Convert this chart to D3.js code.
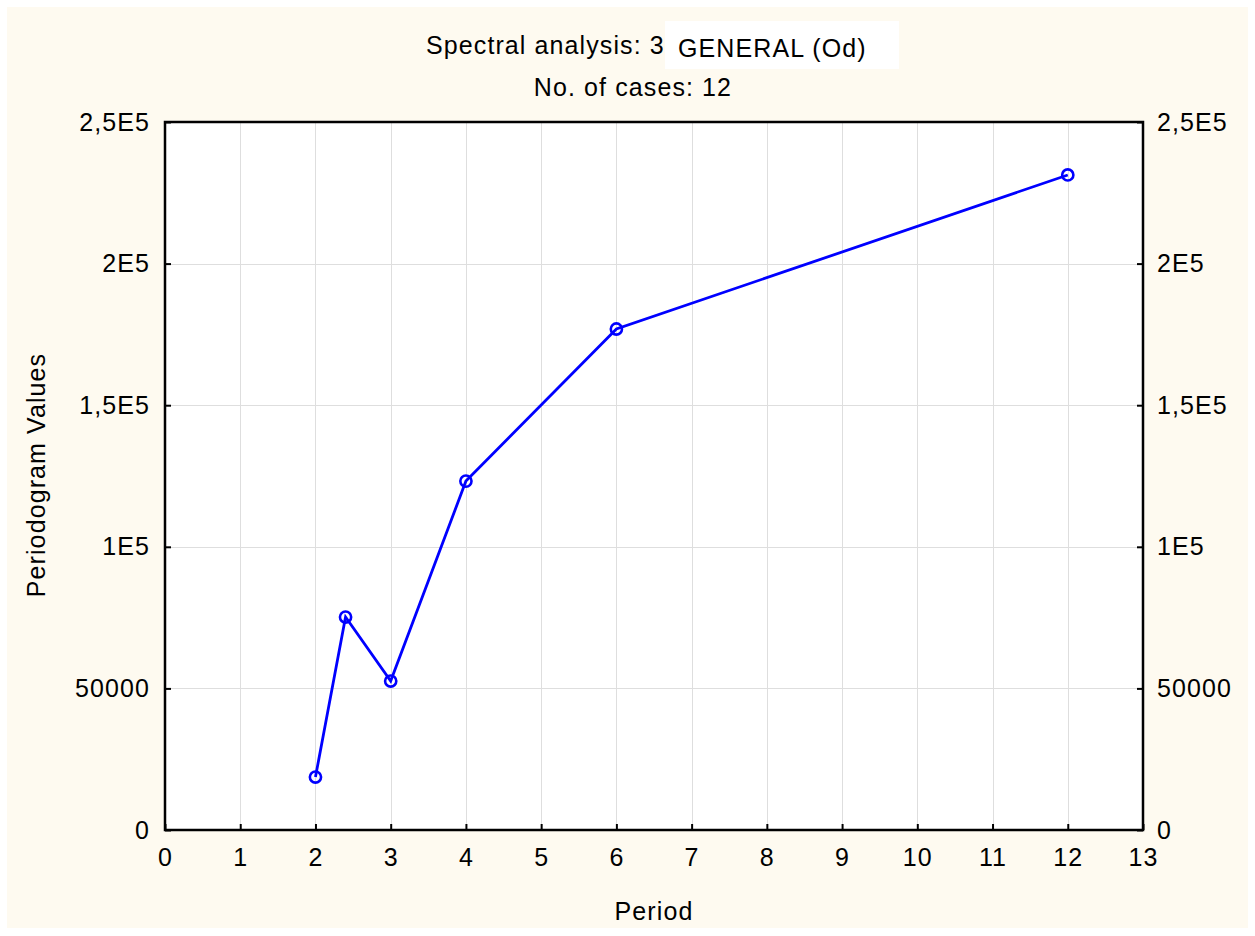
<!DOCTYPE html>
<html>
<head>
<meta charset="utf-8">
<script src="https://cdn.jsdelivr.net/npm/d3@7"></script>
<style>
  html, body { margin: 0; padding: 0; background: #ffffff; }
  svg { display: block; font-family: "Liberation Sans", Arial, sans-serif; }
  svg text { font-family: "Liberation Sans", Arial, sans-serif; font-size: 25px; letter-spacing: 1.1px; fill: #000; }
</style>
</head>
<body>
<svg id="chart" width="1255" height="936"></svg>
<script>
// Periodogram by period (12 cases)
const periods = [2, 2.4, 3, 4, 6, 12];
const periodogramValues = [18700, 75200, 52600, 123200, 176900, 231300];
const xTicks = [0, 1, 2, 3, 4, 5, 6, 7, 8, 9, 10, 11, 12, 13];
const yTicks = [0, 50000, 100000, 150000, 200000, 250000];
const yTickLabels = ["0", "50000", "1E5", "1,5E5", "2E5", "2,5E5"];

const svg = d3.select("#chart");
const W = 1255, H = 936;
const m = { left: 165, right: 1143, top: 122, bottom: 830 };

// page background
svg.append("rect").attr("x", 7).attr("y", 7).attr("width", W - 14).attr("height", H - 15)
  .attr("fill", "#fefaf0");

const x = d3.scaleLinear().domain([0, 13]).range([m.left, m.right]);
const y = d3.scaleLinear().domain([0, 250000]).range([m.bottom, m.top]);

// plot area
svg.append("rect").attr("x", m.left).attr("y", m.top)
  .attr("width", m.right - m.left).attr("height", m.bottom - m.top).attr("fill", "#ffffff");

// grid
const grid = svg.append("g").attr("stroke", "#dedede").attr("stroke-width", 1);
grid.selectAll("line.gx").data(xTicks.slice(1, -1)).join("line")
  .attr("x1", d => Math.round(x(d)) + 0.5).attr("x2", d => Math.round(x(d)) + 0.5)
  .attr("y1", m.top).attr("y2", m.bottom);
grid.selectAll("line.gy").data(yTicks.slice(1, -1)).join("line")
  .attr("y1", d => Math.round(y(d)) + 0.5).attr("y2", d => Math.round(y(d)) + 0.5)
  .attr("x1", m.left).attr("x2", m.right);

// axes (ticks pointing inward)
const bottomAxis = d3.axisBottom(x).tickValues(xTicks).tickSize(-6).tickPadding(18)
  .tickFormat(d3.format("d"));
const leftAxis = d3.axisLeft(y).tickValues(yTicks).tickSize(-6).tickPadding(15)
  .tickFormat((d, i) => yTickLabels[i]);
const rightAxis = d3.axisRight(y).tickValues(yTicks).tickSize(-6).tickPadding(14)
  .tickFormat((d, i) => yTickLabels[i]);

function styleAxis(g) {
  g.attr("font-size", null).attr("font-family", null);
  g.select(".domain").remove();
  g.selectAll(".tick line").attr("stroke", "#000").attr("stroke-width", 2);
  g.selectAll(".tick text").attr("fill", "#000");
}
svg.append("g").attr("transform", `translate(0,${m.bottom})`).call(bottomAxis).call(styleAxis);
svg.append("g").attr("transform", `translate(${m.left},0)`).call(leftAxis).call(styleAxis);
svg.append("g").attr("transform", `translate(${m.right},0)`).call(rightAxis).call(styleAxis);

// frame
svg.append("path")
  .attr("d", `M${m.left},${m.bottom}V${m.top}H${m.right}V${m.bottom}Z`)
  .attr("fill", "none").attr("stroke", "#000").attr("stroke-width", 2.5);

// series
const pts = periods.map((p, i) => [p, periodogramValues[i]]);
svg.append("path").datum(pts)
  .attr("d", d3.line().x(d => x(d[0])).y(d => y(d[1])))
  .attr("fill", "none").attr("stroke", "#0000ff").attr("stroke-width", 2.8);
svg.selectAll("circle.pt").data(pts).join("circle")
  .attr("cx", d => x(d[0])).attr("cy", d => y(d[1])).attr("r", 5.6)
  .attr("fill", "none").attr("stroke", "#0000ff").attr("stroke-width", 2.6);

// titles
svg.append("text").attr("x", 426).attr("y", 54).text("Spectral analysis: 3");
svg.append("rect").attr("x", 665).attr("y", 21).attr("width", 234).attr("height", 48).attr("fill", "#ffffff");
svg.append("text").attr("x", 678).attr("y", 57).text("GENERAL (Od)");
svg.append("text").attr("x", 633).attr("y", 96).attr("text-anchor", "middle").text("No. of cases: 12");

// axis titles
svg.append("text").attr("x", (m.left + m.right) / 2).attr("y", 920).attr("text-anchor", "middle")
  .text("Period");
svg.append("text").attr("transform", `translate(45,${(m.top + m.bottom) / 2 - 1}) rotate(-90)`)
  .attr("text-anchor", "middle").text("Periodogram Values");
</script>
</body>
</html>
